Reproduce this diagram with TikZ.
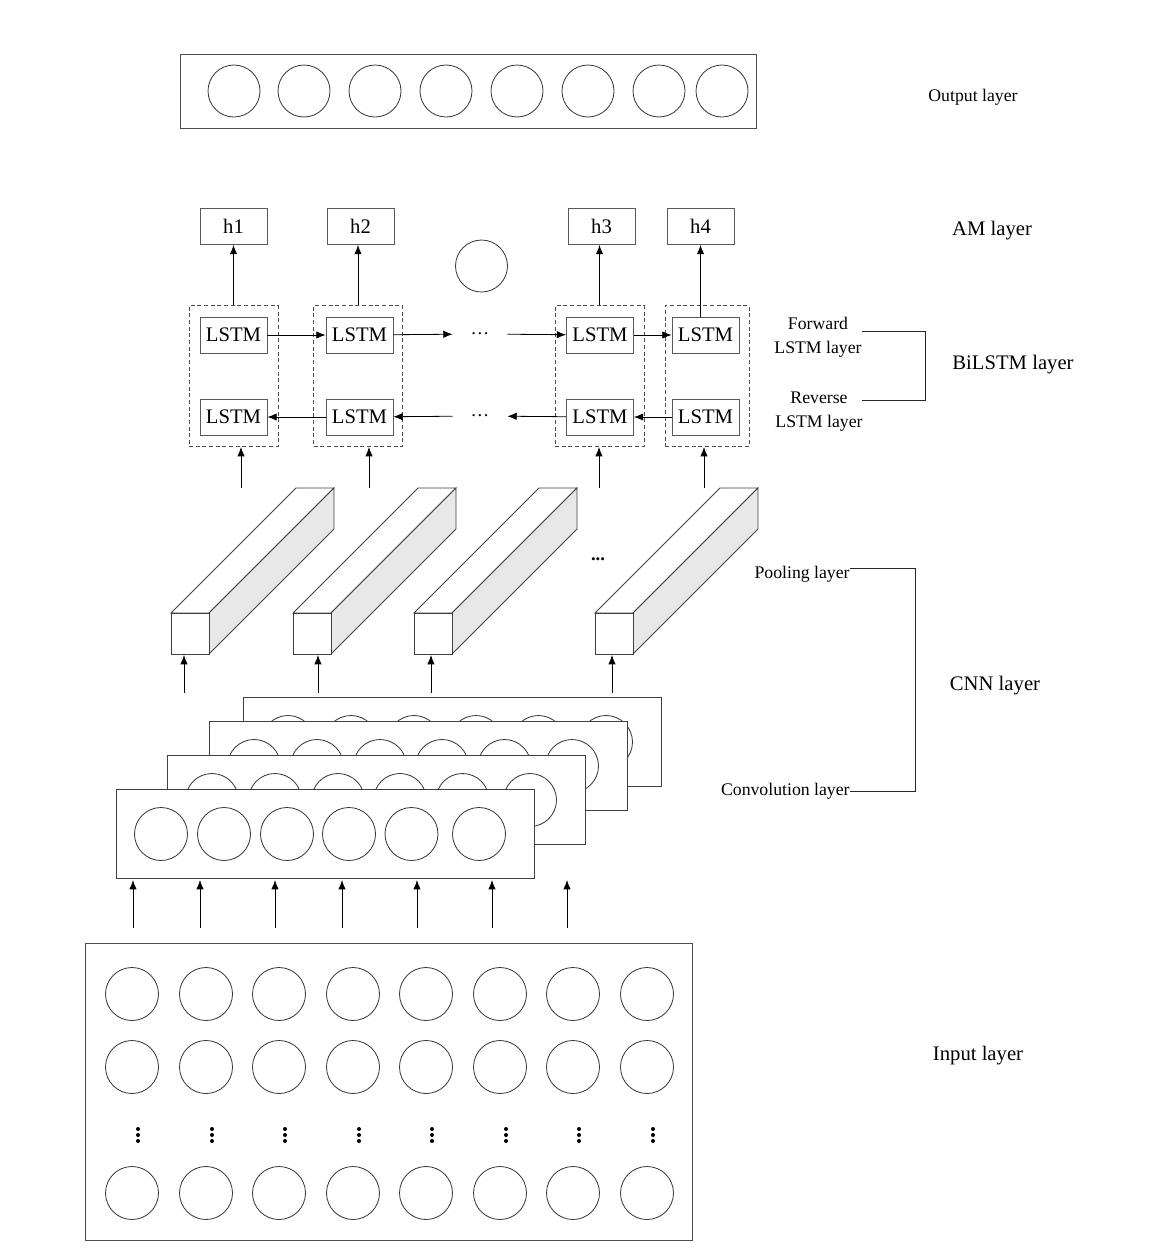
\documentclass[tikz,border=0pt]{standalone}
\usepackage{fontspec}
\setmainfont{Liberation Serif}
\usetikzlibrary{arrows.meta}

\begin{document}
\begin{tikzpicture}[x=0.75pt,y=0.75pt,yscale=-1,xscale=1,line width=0.6pt,
  cell/.style={draw=black!65,minimum width=50.25pt,minimum height=27pt,inner sep=0pt,font=\fontsize{15.5}{17}\selectfont},
  grp/.style={draw=black!70,dash pattern=on 3pt off 2pt,minimum height=105.75pt,inner sep=0pt},
  lbl/.style={font=\fontsize{15.5}{18}\selectfont,inner sep=0pt},
  sublbl/.style={font=\fontsize{13.3}{18}\selectfont,inner sep=0pt,align=center},
  arr/.style={-{Latex[length=7pt,width=5.5pt]},black},
  unit/.style={draw=black!80,fill=white}
]
\useasboundingbox (0,0) rectangle (1164,1258);

%Output layer
\draw [draw=black!70] (180,54) rectangle (756,128);
\foreach \x in {234,304,375,446,517,588,659,722}
  \draw [unit] (\x,91) circle (26);
\node [lbl,font=\fontsize{13.3}{16}\selectfont] (outlbl) at (973,97) {Output layer};

%AM layer
\node [cell] (h1) at (233.5,226.5) {h1};
\node [cell] (h2) at (360.5,226.5) {h2};
\node [cell] (h3) at (601.5,226.5) {h3};
\node [cell] (h4) at (700.5,226.5) {h4};
\draw [draw=black!80] (481.5,266) circle (26);
\node [lbl] (amlbl) at (992,231) {AM layer};

%BiLSTM layer
\node [grp,minimum width=66.75pt] (d1) at (233.5,376) {};
\node [grp,minimum width=66.75pt] (d2) at (358,376) {};
\node [grp,minimum width=66.75pt] (d3) at (599.5,376) {};
\node [grp,minimum width=63pt] (d4) at (707,376) {};

\node [cell] (fl1) at (233.5,335) {LSTM};
\node [cell] (fl2) at (359.5,335) {LSTM};
\node [cell] (fl3) at (600,335) {LSTM};
\node [cell] (fl4) at (705.5,335) {LSTM};
\node [cell] (rl1) at (233.5,417) {LSTM};
\node [cell] (rl2) at (359.5,417) {LSTM};
\node [cell] (rl3) at (600,417) {LSTM};
\node [cell] (rl4) at (705.5,417) {LSTM};
\node [inner sep=0pt,minimum width=40.5pt,font=\fontsize{14}{16}\selectfont] (fdots) at (480,334) {\ldots};
\node [inner sep=0pt,minimum width=40.5pt,font=\fontsize{14}{16}\selectfont] (rdots) at (480,416) {\ldots};

\draw [arr] (fl1) -- (fl2);
\draw [arr] (fl2) -- (fdots);
\draw [arr] (fdots) -- (fl3);
\draw [arr] (fl3) -- (fl4);
\draw [arr] (rl4) -- (rl3);
\draw [arr] (rl3) -- (rdots);
\draw [arr] (rdots) -- (rl2);
\draw [arr] (rl2) -- (rl1);

\draw [arr] (d1.north) -- (h1.south -| d1.north);
\draw [arr] (d2.north) -- (h2.south -| d2.north);
\draw [arr] (d3.north) -- (h3.south -| d3.north);
\draw [arr] (h4.south |- fl4.north) -- (h4.south);

\node [sublbl] (fwd) at (818,337) {Forward\\LSTM layer};
\node [sublbl] (rev) at (819,412) {Reverse\\LSTM layer};
\coordinate (bf) at (862,331);
\coordinate (br) at (862,400);
\draw [draw=black!85] (bf) -- (925,331) -- (925,400) -- (br);
\node [lbl] (bilbl) at (1013,365) {BiLSTM layer};

%Pooling layer
\foreach \x [count=\i] in {171,293,414,595} {
  \draw [draw=black!75,fill=white] (\x,613) -- (\x+125,488) -- (\x+163,488) -- (\x+38,613) -- cycle;
  \draw [draw=black!75,fill=black!9] (\x+38,613) -- (\x+163,488) -- (\x+163,529) -- (\x+38,654) -- cycle;
  \draw [draw=black!75,fill=white] (\x,613) rectangle (\x+38,654);
}
\node [font=\fontsize{14}{16}\selectfont\bfseries,inner sep=0pt] (pdots) at (598,559) {...};

\foreach \x [count=\i] in {241,369,599,704} {
  \coordinate (ps\i) at (\x,488);
  \coordinate (pt\i) at (\x,447);
  \draw [arr] (ps\i) -- (pt\i);
}

%Convolution layer
\foreach \x/\y in {243/697,209/721,167/755,116/789} {
  \draw [draw=black!75,fill=white] (\x,\y) rectangle (\x+418,\y+89);
  \foreach \dx in {45,108,171,233,295.5,363}
    \draw [draw=black!80] (\x+\dx,\y+45) circle (26.5);
}

\foreach \x [count=\i] in {184,318,431,612} {
  \coordinate (cs\i) at (\x,693);
  \coordinate (ct\i) at (\x,655);
  \draw [arr] (cs\i) -- (ct\i);
}

\node [sublbl,anchor=east] (poollbl) at (850,574) {Pooling layer};
\node [sublbl,anchor=east] (convlbl) at (850,791) {Convolution layer};
\draw [draw=black!85] (poollbl.east |- 0,568) -- (915,568) -- (915,791) -- (convlbl.east |- 0,791);
\node [lbl] (cnnlbl) at (995,686) {CNN layer};

%Input layer
\foreach \x [count=\i] in {133,200,275,342,417,492,567} {
  \coordinate (is\i) at (\x,928);
  \coordinate (it\i) at (\x,880);
  \draw [arr] (is\i) -- (it\i);
}

\draw [draw=black!70] (85,943) rectangle (692,1240);
\foreach \x in {132,206,279,353,426,500,573,647} {
  \foreach \y in {994,1067,1193}
    \draw [draw=black!80] (\x,\y) circle (26.5);
  \foreach \y in {1129,1135,1141}
    \fill (\x+6,\y) circle (2);
}
\node [lbl] (inlbl) at (978,1056) {Input layer};

\end{tikzpicture}
\end{document}
